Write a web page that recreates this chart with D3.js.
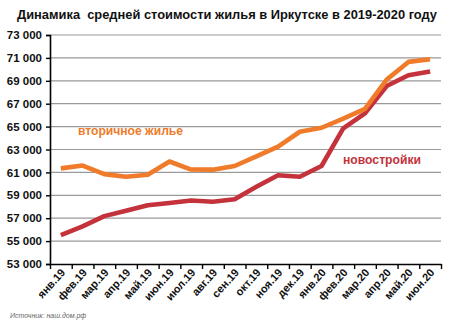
<!DOCTYPE html>
<html>
<head>
<meta charset="utf-8">
<script src="https://cdn.jsdelivr.net/npm/d3@7/dist/d3.min.js"></script>
<style>
  html, body { margin: 0; padding: 0; background: #fff; }
  svg { display: block; }
</style>
</head>
<body>
<svg id="chart" width="450" height="322"></svg>
<script>
// Months (Jan 2019 – Jun 2020)
const months = ["янв.19","фев.19","мар.19","апр.19","май.19","июн.19","июл.19","авг.19","сен.19",
                "окт.19","ноя.19","дек.19","янв.20","фев.20","мар.20","апр.20","май.20","июн.20"];

// Average price per m², roubles
const secondary = [61350, 61600, 60850, 60620, 60800, 61950, 61250, 61240, 61560,
                   62400, 63250, 64550, 64900, 65700, 66550, 69100, 70650, 70880];
const newBuild  = [55520, 56280, 57180, 57650, 58130, 58320, 58540, 58440, 58660,
                   59750, 60750, 60620, 61560, 64850, 66150, 68550, 69480, 69820];

const yTicks = [53000, 55000, 57000, 59000, 61000, 63000, 65000, 67000, 69000, 71000, 73000];

const title = "Динамика  средней стоимости жилья в Иркутске в 2019-2020 году";
const seriesLabels = ["вторичное жилье", "новостройки"];
const source = "Источник: наш.дом.рф";

const colors = { secondary: "#ef7b2b", newBuild: "#c4323c" };

(function draw() {
  const svg = d3.select("#chart");
  const plotLeft = 50, plotRight = 441, plotTop = 35, plotBottom = 264;
  const font = "'Liberation Sans', Arial, sans-serif";

  const x = d3.scaleBand().domain(months).range([plotLeft, plotRight]).padding(0);
  const xEdge = d3.scaleLinear().domain([0, months.length]).range([plotLeft, plotRight]);
  const y = d3.scaleLinear().domain([53000, 73000]).range([plotBottom, plotTop]);

  const fmt = v => d3.format(",")(v).replace(/,/g, " ");

  // Title
  svg.append("text")
    .attr("x", 227).attr("y", 19)
    .attr("text-anchor", "middle")
    .attr("font-family", font).attr("font-weight", "bold").attr("font-size", 13)
    .attr("textLength", 420).attr("lengthAdjust", "spacingAndGlyphs")
    .style("white-space", "pre")
    .attr("fill", "#111")
    .text(title);

  // Horizontal gridlines
  svg.append("g")
    .selectAll("line")
    .data(yTicks.slice(1))
    .join("line")
    .attr("x1", plotLeft).attr("x2", plotRight)
    .attr("y1", d => y(d)).attr("y2", d => y(d))
    .attr("stroke", "#9a9a9a").attr("stroke-width", 1.2);

  // Y axis
  const yAxis = svg.append("g")
    .attr("transform", `translate(${plotLeft},0)`)
    .call(d3.axisLeft(y).tickValues(yTicks).tickFormat(fmt).tickSize(4).tickPadding(4));
  yAxis.select(".domain").attr("stroke", "#000").attr("stroke-width", 1.6);
  yAxis.selectAll(".tick line").attr("stroke", "#000").attr("stroke-width", 1.4);
  yAxis.selectAll(".tick text")
    .attr("font-family", font).attr("font-weight", "bold").attr("font-size", 11.5)
    .attr("fill", "#111");

  // X axis: tick marks at band edges
  const xAxis = svg.append("g")
    .attr("transform", `translate(0,${plotBottom})`)
    .call(d3.axisBottom(xEdge).tickValues(d3.range(months.length + 1)).tickFormat("").tickSize(5).tickSizeOuter(0));
  xAxis.select(".domain").attr("stroke", "#000").attr("stroke-width", 1.6);
  xAxis.selectAll(".tick line").attr("stroke", "#000").attr("stroke-width", 1.4);

  // X labels, rotated
  svg.append("g")
    .selectAll("text")
    .data(months)
    .join("text")
    .attr("transform", d => `translate(${x(d) + x.bandwidth() / 2 + 5},${plotBottom + 9}) rotate(-48)`)
    .attr("text-anchor", "end")
    .attr("font-family", font).attr("font-weight", "bold").attr("font-size", 11)
    .attr("fill", "#111")
    .text(d => d);

  // Lines
  const line = d3.line()
    .x((d, i) => x(months[i]) + x.bandwidth() / 2)
    .y(d => y(d));

  svg.append("path")
    .datum(newBuild)
    .attr("d", line)
    .attr("fill", "none").attr("stroke", colors.newBuild)
    .attr("stroke-width", 4.6).attr("stroke-linejoin", "round");

  svg.append("path")
    .datum(secondary)
    .attr("d", line)
    .attr("fill", "none").attr("stroke", colors.secondary)
    .attr("stroke-width", 4.6).attr("stroke-linejoin", "round");

  // Series labels
  svg.append("text")
    .attr("x", 78).attr("y", 135)
    .attr("font-family", font).attr("font-weight", "bold").attr("font-size", 12)
    .attr("textLength", 105).attr("lengthAdjust", "spacingAndGlyphs")
    .attr("fill", colors.secondary)
    .text(seriesLabels[0]);

  svg.append("text")
    .attr("x", 343).attr("y", 164)
    .attr("font-family", font).attr("font-weight", "bold").attr("font-size", 12)
    .attr("textLength", 78).attr("lengthAdjust", "spacingAndGlyphs")
    .attr("fill", colors.newBuild)
    .text(seriesLabels[1]);

  // Source note
  svg.append("text")
    .attr("x", 10).attr("y", 318)
    .attr("font-family", font).attr("font-style", "italic").attr("font-size", 7)
    .attr("fill", "#666")
    .text(source);
})();
</script>
</body>
</html>
